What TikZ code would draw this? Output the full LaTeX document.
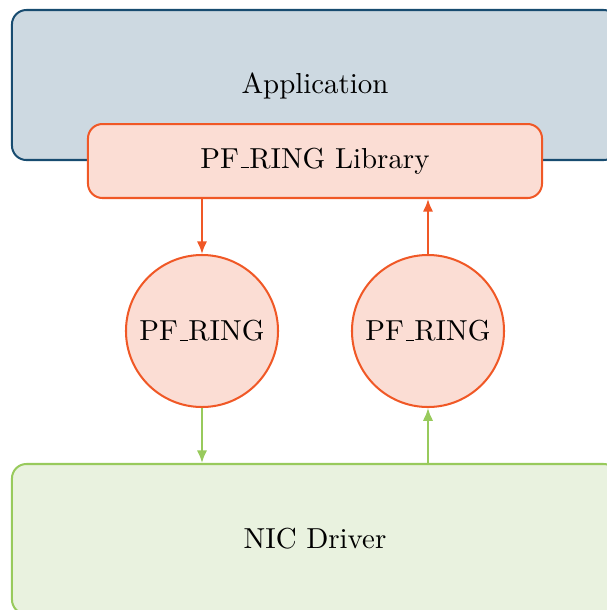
\documentclass[tikz,border=0pt]{standalone}
\usetikzlibrary{arrows.meta}
\definecolor{appdraw}{RGB}{24,76,112}
\definecolor{appfill}{RGB}{205,217,225}
\definecolor{ordraw}{RGB}{240,88,38}
\definecolor{orfill}{RGB}{251,221,212}
\definecolor{grdraw}{RGB}{152,202,92}
\definecolor{grfill}{RGB}{233,242,223}
\newcommand\usc{\leavevmode\kern.06em\vbox{\hrule width.3em}}
\tikzset{
  box/.style={draw, rectangle, rounded corners=5pt, line width=0.7pt, inner sep=0pt, font=\normalsize},
  ringnode/.style={draw=ordraw, fill=orfill, circle, line width=0.7pt, inner sep=0pt, minimum size=52.6pt},
  orarrow/.style={draw=ordraw, line width=0.7pt, -{Latex[length=4.4pt,width=3.6pt]}},
  grarrow/.style={draw=grdraw, line width=0.7pt, -{Latex[length=4.4pt,width=3.6pt]}}
}
\begin{document}
\begin{tikzpicture}[x=0.346pt,y=-0.346pt]
\path[use as bounding box, clip] (0,0) rectangle (607,610);
\node[box, draw=appdraw, fill=appfill, minimum width=209.7pt, minimum height=51.9pt] (app) at (315,85) {};
\node at (315,86) (apptext) {Application};
\node[box, draw=ordraw, fill=orfill, minimum width=157.1pt, minimum height=25.6pt] (lib) at (315,161) {PF\usc RING Library};
\node[ringnode] (c1) at (202,331) {PF\usc RING};
\node[ringnode] (c2) at (428,331) {PF\usc RING};
\node[box, draw=grdraw, fill=grfill, minimum width=209.7pt, minimum height=51.9pt] (nic) at (315,539) {NIC Driver};
\draw[orarrow] (c1.north |- lib.south) -- (c1.north);
\draw[orarrow] (c2.north) -- (c2.north |- lib.south);
\draw[grarrow] (c1.south) -- (c1.south |- nic.north);
\draw[grarrow] (c2.south |- nic.north) -- (c2.south);
\end{tikzpicture}
\end{document}
